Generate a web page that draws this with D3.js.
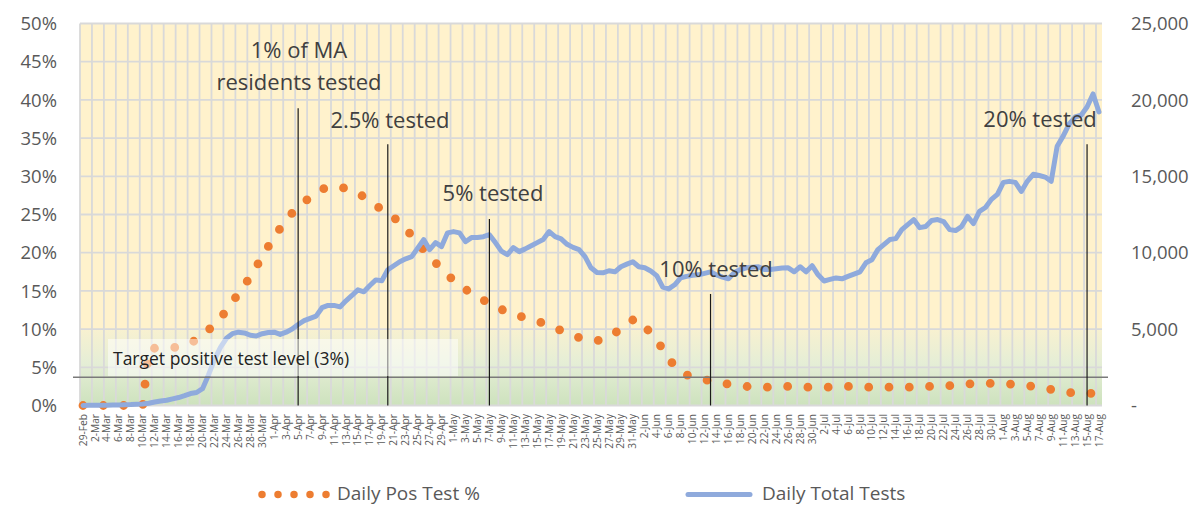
<!DOCTYPE html>
<html>
<head>
<meta charset="utf-8">
<script src="https://cdn.jsdelivr.net/npm/d3@7"></script>
<style>
  html, body { margin: 0; padding: 0; background: #ffffff; }
  svg { display: block; font-family: "Open Sans", "Noto Sans", sans-serif; }
</style>
</head>
<body>
<svg id="chart" width="1189" height="505"></svg>
<script>
// ---------- DATA ----------
const startDate = new Date(2020, 1, 29);   // 29-Feb
const endDate = new Date(2020, 7, 18);     // exclusive -> last = 17-Aug
const categories = d3.timeDay.range(startDate, endDate);

// Daily Pos Test % (left axis)
const posTestPct = [
  0, 0, 0, 0, 0, 0, 0, 0, 0, 0,
  0, 7.3, 7.5, 7.6, 7.6, 7.6, 7.6, 7.8, 8.2, 8.6,
  9.2, 9.9, 10.6, 11.5, 12.4, 13.6, 14.6, 15.7, 16.9, 18.2,
  19.4, 20.8, 22.0, 23.2, 24.2, 25.2, 25.9, 26.6, 27.3, 27.8,
  28.3, 28.6, 28.7, 28.6, 28.4, 28.2, 27.8, 27.3, 26.8, 26.2,
  25.6, 25.0, 24.6, 24.0, 23.2, 22.2, 21.2, 20.4, 19.6, 18.7,
  17.8, 17.1, 16.4, 15.8, 15.2, 14.7, 14.2, 13.8, 13.4, 13.0,
  12.6, 12.2, 12.0, 11.7, 11.5, 11.3, 11.0, 10.8, 10.6, 10.2,
  9.8, 9.5, 9.2, 8.9, 8.6, 8.5, 8.5, 8.6, 9.0, 9.5,
  10.0, 10.6, 11.2, 11.3, 10.3, 9.5, 8.5, 7.4, 6.2, 5.1,
  4.4, 4.0, 3.8, 3.6, 3.4, 3.2, 3.1, 2.9, 2.8, 2.7,
  2.6, 2.5, 2.4, 2.4, 2.4, 2.4, 2.4, 2.5, 2.5, 2.5,
  2.4, 2.4, 2.4, 2.4, 2.4, 2.4, 2.4, 2.5, 2.5, 2.5,
  2.4, 2.4, 2.4, 2.4, 2.4, 2.4, 2.4, 2.4, 2.4, 2.4,
  2.5, 2.5, 2.5, 2.5, 2.6, 2.6, 2.6, 2.7, 2.8, 2.9,
  2.9, 2.9, 2.9, 2.9, 2.9, 2.8, 2.8, 2.7, 2.6, 2.5,
  2.4, 2.3, 2.1, 2.0, 1.8, 1.7, 1.6, 1.6, 1.6, 1.6,
  1.6
];

// Daily Total Tests (right axis)
const totalTests = [
  0, 10, 10, 20, 20, 30, 40, 50, 60, 80,
  100, 150, 230, 300, 340, 430, 520, 640, 780, 850,
  1100, 2000, 3000, 3800, 4400, 4700, 4800, 4750, 4600, 4550,
  4700, 4780, 4800, 4650, 4800, 5000, 5300, 5550, 5700, 5850,
  6400, 6550, 6550, 6450, 6850, 7200, 7570, 7440, 7850, 8220,
  8160, 8880, 9150, 9410, 9600, 9740, 10300, 10860, 10200, 10660,
  10400, 11300, 11380, 11300, 10720, 10990, 11000, 11050, 11180, 10660,
  10100, 9870, 10330, 10070, 10250, 10450, 10660, 10860, 11380, 11050,
  10900, 10550, 10350, 10200, 9740, 9010, 8700, 8680, 8820, 8750,
  9080, 9250, 9410, 9080, 9010, 8800, 8500, 7750, 7630, 7900,
  8350, 8450, 8520, 8550, 8650, 8750, 8550, 8400, 8290, 8700,
  8900, 9010, 9050, 9080, 8900, 8900, 8950, 9000, 9010, 8750,
  9080, 8750, 9150, 8550, 8150, 8250, 8350, 8290, 8450, 8600,
  8750, 9340, 9540, 10200, 10530, 10860, 10920, 11510, 11840, 12170,
  11640, 11710, 12110, 12170, 12040, 11510, 11450, 11710, 12370, 11910,
  12700, 12960, 13490, 13820, 14600, 14670, 14600, 14010, 14670, 15130,
  15050, 14950, 14670, 16970, 17630, 18420, 18880, 19000, 19540, 20390,
  19210
];

const leftTicks = [0, 5, 10, 15, 20, 25, 30, 35, 40, 45, 50];
const rightTicks = [0, 5000, 10000, 15000, 20000, 25000];

// Annotations: date index of marker, label lines, top of marker (left-axis %)
const annotationDays = [36, 51, 68, 105, 168];
const annotationTops = [38.9, 34.2, 24.4, 14.6, 34.2];
const annotationLabels = [
  ["1% of MA", "residents tested"],
  ["2.5% tested"],
  ["5% tested"],
  ["10% tested"],
  ["20% tested"]
];
const targetLabel = "Target positive test level (3%)";
const targetLineLevel = 3.7;
const seriesNames = ["Daily Pos Test %", "Daily Total Tests"];

// ---------- LAYOUT ----------
const svg = d3.select("#chart");
const plot = { left: 80, right: 1102, top: 23.5, bottom: 405.5 };
const orange = "#ED7D31", blue = "#8FAADC";

const x = d3.scaleBand().domain(categories.map((d, i) => i)).range([plot.left, plot.right]).padding(0);
const xc = i => x(i) + x.bandwidth() / 2;
const yL = d3.scaleLinear().domain([0, 50]).range([plot.bottom, plot.top]);
const yR = d3.scaleLinear().domain([0, 25000]).range([plot.bottom, plot.top]);
const fmtDate = d3.timeFormat("%-d-%b");

// background
const defs = svg.append("defs");
const grad = defs.append("linearGradient").attr("id", "greenGrad")
  .attr("x1", 0).attr("y1", 0).attr("x2", 0).attr("y2", 1);
grad.append("stop").attr("offset", "0%").attr("stop-color", "#f8f1d0");
grad.append("stop").attr("offset", "45%").attr("stop-color", "#e5eed6");
grad.append("stop").attr("offset", "100%").attr("stop-color", "#cde2bd");

svg.append("rect").attr("x", plot.left).attr("y", yL(50))
  .attr("width", plot.right - plot.left).attr("height", yL(10) - yL(50))
  .attr("fill", "#FFF2CC");
svg.append("rect").attr("x", plot.left).attr("y", yL(10))
  .attr("width", plot.right - plot.left).attr("height", yL(0) - yL(10))
  .attr("fill", "url(#greenGrad)");

// gridlines
const grid = svg.append("g").attr("stroke", "#d9d9d9").attr("stroke-width", 1.8);
grid.selectAll("line.h").data(leftTicks).join("line")
  .attr("x1", plot.left).attr("x2", plot.right)
  .attr("y1", d => yL(d)).attr("y2", d => yL(d));
const vIdx = categories.map((d, i) => i).filter(i => i % 2 === 0);
grid.selectAll("line.v").data(vIdx).join("line")
  .attr("x1", i => x(i)).attr("x2", i => x(i))
  .attr("y1", plot.top).attr("y2", plot.bottom);

// left axis labels
svg.append("g").selectAll("text").data(leftTicks).join("text")
  .attr("x", 57).attr("y", d => yL(d)).attr("dy", "0.36em")
  .attr("text-anchor", "end").attr("fill", "#595959").attr("font-size", 18.5)
  .text(d => d + "%");

// right axis labels
svg.append("g").selectAll("text").data(rightTicks).join("text")
  .attr("x", 1131).attr("y", d => yR(d)).attr("dy", "0.36em")
  .attr("text-anchor", "start").attr("fill", "#595959").attr("font-size", 18.5)
  .text(d => d === 0 ? "-" : d3.format(",")(d));

// x labels
svg.append("g").selectAll("text").data(vIdx).join("text")
  .attr("transform", i => `translate(${xc(i)},414) rotate(-90)`)
  .attr("dy", "0.35em").attr("text-anchor", "end")
  .attr("fill", "#595959").attr("font-size", 10.2)
  .text(i => fmtDate(categories[i]));

// orange dotted line
const lineL = d3.line().x((d, i) => xc(i)).y(d => yL(d)).curve(d3.curveLinear);
svg.append("path").datum(posTestPct).attr("d", lineL)
  .attr("fill", "none").attr("stroke", orange).attr("stroke-width", 8.8)
  .attr("stroke-linecap", "round").attr("stroke-linejoin", "round")
  .attr("stroke-dasharray", "0 20.3");

// blue line
const lineR = d3.line().x((d, i) => xc(i)).y(d => yR(d));
svg.append("path").datum(totalTests).attr("d", lineR)
  .attr("fill", "none").attr("stroke", blue).attr("stroke-width", 5)
  .attr("stroke-linecap", "round").attr("stroke-linejoin", "round");

// target line
svg.append("line").attr("x1", 73).attr("x2", 1108)
  .attr("y1", yL(targetLineLevel)).attr("y2", yL(targetLineLevel))
  .attr("stroke", "#7a7a7a").attr("stroke-width", 1.5);

// annotation markers
annotationDays.forEach((day, k) => {
  svg.append("line").attr("x1", xc(day)).attr("x2", xc(day))
    .attr("y1", yL(annotationTops[k])).attr("y2", plot.bottom)
    .attr("stroke", "#1a1a1a").attr("stroke-width", 1.2);
});

// target label box
svg.append("rect").attr("x", 108).attr("y", 339).attr("width", 350).attr("height", 37)
  .attr("fill", "#ffffff").attr("fill-opacity", 0.5);
svg.append("text").attr("x", 113).attr("y", 365).attr("font-size", 17.5)
  .attr("fill", "#222").text(targetLabel);

// annotation labels
const labelPos = [
  { cx: 299, ys: [58, 90] },
  { cx: 390, ys: [128] },
  { cx: 493, ys: [201] },
  { cx: 716, ys: [277] },
  { cx: 1040, ys: [127] }
];
annotationLabels.forEach((lines, k) => {
  lines.forEach((t, j) => {
    svg.append("text").attr("x", labelPos[k].cx).attr("y", labelPos[k].ys[j])
      .attr("text-anchor", "middle").attr("font-size", 22).attr("fill", "#404040")
      .text(t);
  });
});

// legend
svg.append("path").attr("d", "M262,494.5 L326.5,494.5")
  .attr("stroke", orange).attr("stroke-width", 7.5).attr("stroke-linecap", "round")
  .attr("stroke-dasharray", "0 16");
svg.append("text").attr("x", 337).attr("y", 499.5).attr("font-size", 19)
  .attr("fill", "#595959").text(seriesNames[0]);
svg.append("line").attr("x1", 688).attr("x2", 750).attr("y1", 494.5).attr("y2", 494.5)
  .attr("stroke", blue).attr("stroke-width", 5).attr("stroke-linecap", "round");
svg.append("text").attr("x", 762).attr("y", 499.5).attr("font-size", 19)
  .attr("fill", "#595959").text(seriesNames[1]);
</script>
</body>
</html>
